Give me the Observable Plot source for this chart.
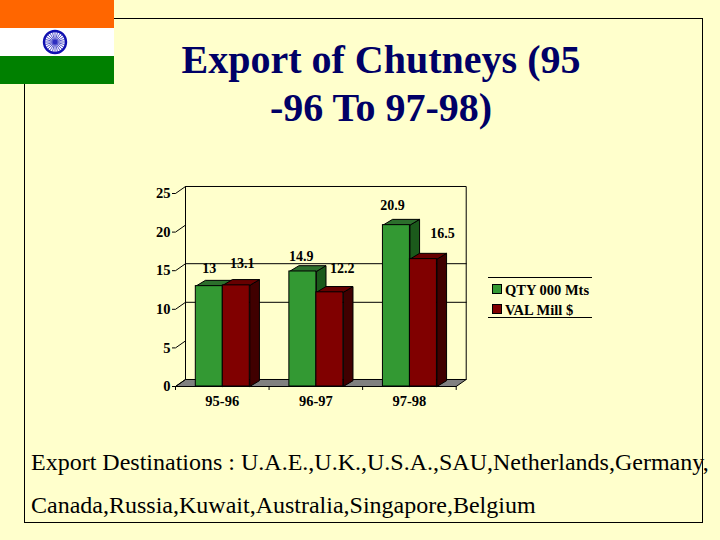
<!DOCTYPE html>
<html><head><meta charset="utf-8">
<script src="https://cdn.jsdelivr.net/npm/d3@7"></script>
<script src="https://cdn.jsdelivr.net/npm/@observablehq/plot@0.6"></script>
<style>
html,body{margin:0;padding:0;background:#FFFFCC;width:720px;height:540px;overflow:hidden}
#frame{position:absolute;left:24px;top:18px;width:677px;height:503px;border:1px solid #000}
.stripe{position:absolute;left:0;width:114px;height:28px}
#title{position:absolute;left:122px;width:518px;top:36px;text-align:center;font:bold 40px/48px "Liberation Serif",serif;color:#000066}
.foot{position:absolute;left:31px;white-space:nowrap;font:24px/28px "Liberation Serif",serif;color:#000}
#chart{position:absolute;left:0;top:170px}
#legend{position:absolute;left:488px;top:277px;width:104px;height:39px;border-top:1px solid #000;border-bottom:1px solid #000;font:bold 14.5px/14px "Liberation Serif",serif}
.li{position:absolute;left:17px;white-space:nowrap}
.sw{position:absolute;left:4px;width:8px;height:8px;border:1px solid #000}
</style></head><body>
<div id="frame"></div>
<div id="flag"></div>
<div id="title">Export of Chutneys (95<br>-96 To 97-98)</div>
<div id="chart"></div>
<div id="legend"></div>
<div class="foot" style="top:448px">Export Destinations : U.A.E.,U.K.,U.S.A.,SAU,Netherlands,Germany,</div>
<div class="foot" style="top:491px">Canada,Russia,Kuwait,Australia,Singapore,Belgium</div>
<script>
const years = ["95-96", "96-97", "97-98"];
const qty = [13, 14.9, 20.9];
const val = [13.1, 12.2, 16.5];
const seriesNames = ["QTY 000 Mts", "VAL Mill $"];
const yTicks = [0, 5, 10, 15, 20, 25];
const gridValues = [10, 15];
const xBoundaries = [0, 1, 2, 3];
const greenFaces = {front: "#339933", top: "#2C6F2C", side: "#1B5A1B"};
const redFaces = {front: "#800000", top: "#660000", side: "#400000"};

// label nudges in pixels, one per bar, as placed in the source
const qtyNudge = [[0, -18], [-1.5, -15], [-4, -19.5]];
const valNudge = [[6, -22], [12.5, -24], [19, -25.5]];

// flag
const flag = document.getElementById("flag");
["#FF6600", "#FFFFFF", "#008000"].forEach((c, i) => {
  const d = document.createElement("div");
  d.className = "stripe"; d.style.top = (i * 28) + "px"; d.style.background = c;
  flag.appendChild(d);
});
const ns = "http://www.w3.org/2000/svg";
const w = document.createElementNS(ns, "svg");
w.setAttribute("width", 30); w.setAttribute("height", 30);
w.style.cssText = "position:absolute;left:40px;top:27px";
let inner = '<circle cx="15" cy="15" r="11" fill="#fff" stroke="#1010B0" stroke-width="2.4"/><circle cx="15" cy="15" r="2.2" fill="#1010B0"/>';
for (let a = 0; a < 24; a++) {
  const t = a * Math.PI / 12;
  inner += `<line x1="15" y1="15" x2="${15 + 10 * Math.cos(t)}" y2="${15 + 10 * Math.sin(t)}" stroke="#3030C0" stroke-width="0.8"/>`;
}
w.innerHTML = inner;
flag.appendChild(w);

// legend
const legend = document.getElementById("legend");
seriesNames.forEach((n, i) => {
  const top = i ? 26 : 6;
  legend.insertAdjacentHTML("beforeend",
    `<div class="sw" style="top:${top}px;background:${i ? redFaces.front : greenFaces.front}"></div><div class="li" style="top:${top - 1}px">${n}</div>`);
});

// chart geometry in data units: x is group position, y is the value
const depthX = 0.107, depthY = 0.907, barDepthX = 0.103, barDepthY = 0.75;
const barStart = 0.217, barW = 0.2885;

function bar(i, k, v, faces) {
  const x1 = i + barStart + k * barW, x2 = x1 + barW;
  const side = [[x2, 0], [x2 + barDepthX, barDepthY], [x2 + barDepthX, v + barDepthY], [x2, v], [x2, 0]];
  const top = [[x1, v], [x1 + barDepthX, v + barDepthY], [x2 + barDepthX, v + barDepthY], [x2, v], [x1, v]];
  const opts = {x: d => d[0], y: d => d[1], stroke: "#000", strokeWidth: 1};
  return [
    Plot.line(side, {...opts, fill: faces.side}),
    Plot.line(top, {...opts, fill: faces.top}),
    Plot.rect([0], {x1: x1, x2: x2, y1: 0, y2: v, fill: faces.front, stroke: "#000", strokeWidth: 1})
  ];
}
function label(i, k, v, nudge) {
  return Plot.text([String(v)], {
    x: [i + barStart + (k + 0.5) * barW], y: [v], text: d => d,
    dx: nudge[0], dy: nudge[1], fill: "#000", fontSize: 14
  });
}
const line = (pts, o = {}) => Plot.line(pts, {x: d => d[0], y: d => d[1], stroke: "#000", strokeWidth: 1, ...o});

const chart = Plot.plot({
  width: 720, height: 250,
  marginLeft: 175, marginRight: 264.3, marginTop: 23, marginBottom: 34,
  x: {domain: [0, 3]},
  y: {domain: [0, 25]},
  style: {background: "transparent", fontFamily: "Liberation Serif, serif", fontWeight: "bold", fontSize: "14.5px", color: "#000"},
  marks: [
    // floor
    line([[0, 0], [depthX, depthY], [3 + depthX, depthY], [3, 0], [0, 0]], {fill: "#808080"}),
    // back wall
    line([[depthX, depthY], [depthX, 25 + depthY], [3 + depthX, 25 + depthY], [3 + depthX, depthY]]),
    // value labels sit behind the gridlines
    ...qty.map((v, i) => label(i, 0, v, qtyNudge[i])),
    ...val.map((v, i) => label(i, 1, v, valNudge[i])),
    // gridlines and wall ticks
    ...gridValues.map(v => line([[depthX, v + depthY], [3 + depthX, v + depthY]])),
    ...yTicks.map(v => line([[0, v], [depthX, v + depthY]])),
    // bars
    ...years.flatMap((_, i) => [...bar(i, 0, qty[i], greenFaces), ...bar(i, 1, val[i], redFaces)]),
    // front baseline and its ticks
    line([[0, 0], [3, 0]]),
    ...xBoundaries.map(b => line([[b, 0], [b, -0.4]])),
    // axes
    Plot.axisY({ticks: yTicks, tickSize: 3, tickPadding: 2, label: null, fill: "#000", stroke: "#000"}),
    Plot.axisX({ticks: [0.5, 1.5, 2.5], tickSize: 0, tickPadding: 9, label: null, fill: "#000",
      tickFormat: d => years[Math.floor(d)]})
  ]
});
document.getElementById("chart").appendChild(chart);
</script>
</body></html>
